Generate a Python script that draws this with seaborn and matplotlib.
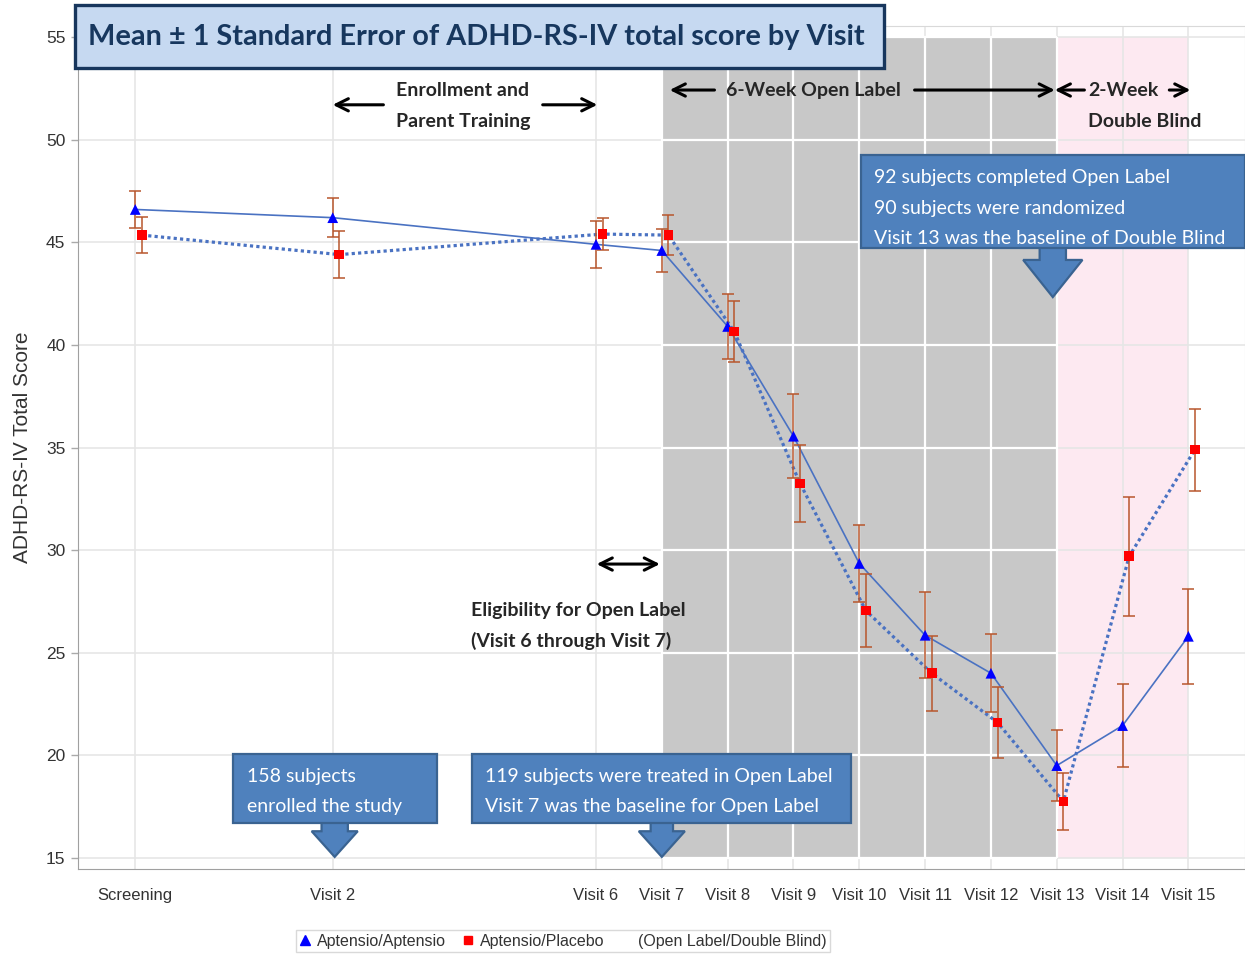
import matplotlib
matplotlib.use("Agg")
import matplotlib.pyplot as plt
from matplotlib.patches import Rectangle, Polygon
from matplotlib.lines import Line2D
import pandas as pd
import seaborn as sns

# Données
visits = ["Screening", "Visit 2", "Visit 6", "Visit 7", "Visit 8", "Visit 9",
          "Visit 10", "Visit 11", "Visit 12", "Visit 13", "Visit 14", "Visit 15"]
visit_pos = [-1, 2, 6, 7, 8, 9, 10, 11, 12, 13, 14, 15]
aa_mean = [46.6, 46.2, 44.9, 44.6, 40.9, 35.55, 29.35, 25.85, 24.0, 19.5, 21.45, 25.8]
aa_se = [0.88, 0.95, 1.14, 1.06, 1.58, 2.05, 1.89, 2.09, 1.90, 1.75, 2.01, 2.32]
ap_mean = [45.35, 44.4, 45.4, 45.35, 40.65, 33.25, 27.05, 24.0, 21.6, 17.75, 29.7, 34.9]
ap_se = [0.89, 1.14, 0.79, 0.96, 1.50, 1.88, 1.78, 1.83, 1.73, 1.41, 2.9, 2.0]
y_ticks = [15, 20, 25, 30, 35, 40, 45, 50, 55]

aa = pd.DataFrame({"pos": visit_pos, "mean": aa_mean, "se": aa_se})
ap = pd.DataFrame({"pos": [p + 0.1 for p in visit_pos], "mean": ap_mean, "se": ap_se})

sns.set_style("white")
plt.rcParams["font.family"] = ["Liberation Sans", "DejaVu Sans"]

LINE_BLUE = "#4a72c2"
ERR = "#b8562c"
BOX_BLUE = "#4f81bd"
BOX_EDGE = "#3a6391"
note_font = ["Lato", "DejaVu Sans"]

fig = plt.figure(figsize=(12.45, 9.55), dpi=100)
ax = fig.add_axes([78 / 1245, 86 / 955, 1167 / 1245, 843 / 955])
ax.set_xlim(-1.87, 15.86)
ax.set_ylim(14.46, 55.54)

# Fond : phase ouverte (gris) et double aveugle (rose)
ax.fill_between([13, 15], 15, 55, color="#fde9f1", lw=0, zorder=0.4)
ax.grid(True, color="#e6e6e6", lw=1.2)
ax.set_axisbelow(True)
ax.fill_between([7, 13], 15, 55, color="#c8c8c8", lw=0, zorder=0.6)
ax.vlines([p for p in visit_pos if 7 <= p <= 13], 15, 55, color="white", lw=1.6, zorder=0.7)
ax.hlines(y_ticks, 7, 13, color="white", lw=1.6, zorder=0.7)

# Courbes
sns.lineplot(data=aa, x="pos", y="mean", color=LINE_BLUE, lw=1.2, ax=ax, zorder=2)
sns.lineplot(data=ap, x="pos", y="mean", color=LINE_BLUE, lw=2.3,
             linestyle=(0, (1, 1)), ax=ax, zorder=2)
ax.errorbar(aa["pos"], aa["mean"], yerr=aa["se"], fmt="none", ecolor=ERR,
            elinewidth=1.1, capsize=4, capthick=1.1, zorder=3)
ax.errorbar(ap["pos"], ap["mean"], yerr=ap["se"], fmt="none", ecolor=ERR,
            elinewidth=1.1, capsize=4, capthick=1.1, zorder=3)
sns.scatterplot(data=aa, x="pos", y="mean", marker="^", color="#0000ff", s=60,
                edgecolor="none", ax=ax, zorder=4)
sns.scatterplot(data=ap, x="pos", y="mean", marker="s", color="#ff0000", s=48,
                edgecolor="none", ax=ax, zorder=4)

# Axes
ax.set_xticks(visit_pos)
ax.set_xticklabels(visits)
ax.set_yticks(y_ticks)
ax.tick_params(axis="x", length=0, pad=14, labelsize=12, labelcolor="#333333")
ax.tick_params(axis="y", length=5, width=1, color="#aaaaaa", pad=4,
               labelsize=12.5, labelcolor="#333333", left=True)
ax.set_xlabel("")
ax.set_ylabel("ADHD-RS-IV Total Score", fontsize=15, color="#333333", labelpad=10)
for side in ["left", "bottom"]:
    ax.spines[side].set_color("#a0a0a0")
for side in ["top", "right"]:
    ax.spines[side].set_color("#d9d9d9")

# Flèches noires et textes des phases
def arrow(x0, x1, y, style="->"):
    ax.annotate("", xy=(x1, y), xytext=(x0, y),
                arrowprops=dict(arrowstyle=style, color="black", lw=2.2,
                                mutation_scale=22, shrinkA=0, shrinkB=0),
                zorder=6)

def bold(x, y, s):
    ax.text(x, y, s, fontsize=14, fontweight="bold", family=note_font,
            ha="left", va="center", zorder=6)

arrow(2.77, 2.0, 51.7)
arrow(5.19, 6.02, 51.7)
bold(2.96, 52.42, "Enrollment and")
bold(2.96, 50.91, "Parent Training")
arrow(7.8, 7.12, 52.42)
bold(7.97, 52.42, "6-Week Open Label")
arrow(10.84, 12.97, 52.42)
arrow(13.42, 12.97, 52.42)
bold(13.48, 52.42, "2-Week")
arrow(14.71, 15.03, 52.42)
bold(13.48, 50.91, "Double Blind")
arrow(6.01, 6.97, 29.32, style="<->")
bold(4.10, 27.08, "Eligibility for Open Label")
bold(4.10, 25.57, "(Visit 6 through Visit 7)")

# Encadrés bleus avec flèche vers le bas
def callout(x0, x1, y_top, y_bot, lines, xc, y_head, y_tip, shaft, head):
    ax.add_patch(Rectangle((x0, y_bot), x1 - x0, y_top - y_bot, facecolor=BOX_BLUE,
                           edgecolor=BOX_EDGE, lw=1.6, zorder=7, clip_on=False))
    ax.add_patch(Polygon([(xc - shaft, y_bot + 0.05), (xc - shaft, y_head),
                          (xc - head, y_head), (xc, y_tip), (xc + head, y_head),
                          (xc + shaft, y_head), (xc + shaft, y_bot + 0.05)],
                         closed=True, facecolor=BOX_BLUE, edgecolor=BOX_EDGE,
                         lw=1.6, zorder=6.9, clip_on=False))
    step = 1.5
    for i, s in enumerate(lines):
        ax.text(x0 + 0.2, y_top - 1.08 - step * i, s, color="white", fontsize=14,
                family=note_font, ha="left", va="center", zorder=8)

callout(0.49, 3.58, 20.07, 16.71, ["158 subjects", "enrolled the study"],
        2.03, 16.3, 15.05, 0.2, 0.35)
callout(4.12, 9.87, 20.07, 16.71,
        ["119 subjects were treated in Open Label", "Visit 7 was the baseline for Open Label"],
        7.0, 16.3, 15.05, 0.17, 0.35)
callout(10.02, 15.86, 49.25, 44.72,
        ["92 subjects completed Open Label", "90 subjects were randomized",
         "Visit 13 was the baseline of Double Blind"],
        12.94, 44.14, 42.33, 0.2, 0.45)

# Titre encadré
fig.patches.append(Rectangle((75 / 1245, 1 - 68 / 955), 809 / 1245, 63 / 955,
                             transform=fig.transFigure, facecolor="#c6d9f1",
                             edgecolor="#17365d", lw=2.4, zorder=10))
fig.text(476 / 1245, 1 - 37 / 955,
         "Mean \u00b1 1 Standard Error of ADHD-RS-IV total score by Visit",
         fontsize=20.8, fontweight="bold", color="#17375e", family=note_font,
         ha="center", va="center", zorder=11)

# Légende
handles = [Line2D([], [], marker="^", color="#0000ff", ls="none", ms=7),
           Line2D([], [], marker="s", color="#ff0000", ls="none", ms=6),
           Line2D([], [], ls="none")]
labels = ["Aptensio/Aptensio", "Aptensio/Placebo", "(Open Label/Double Blind)"]
leg = fig.legend(handles, labels, loc="center", bbox_to_anchor=(563 / 1245, 1 - 941 / 955),
                 ncol=3, fontsize=11.5, frameon=True, fancybox=False, edgecolor="#d0d0d0",
                 handlelength=0.7, handletextpad=0.4, columnspacing=1.0,
                 borderpad=0.25)
for t in leg.get_texts():
    t.set_color("#333333")

fig.savefig("out.png", dpi=100)
